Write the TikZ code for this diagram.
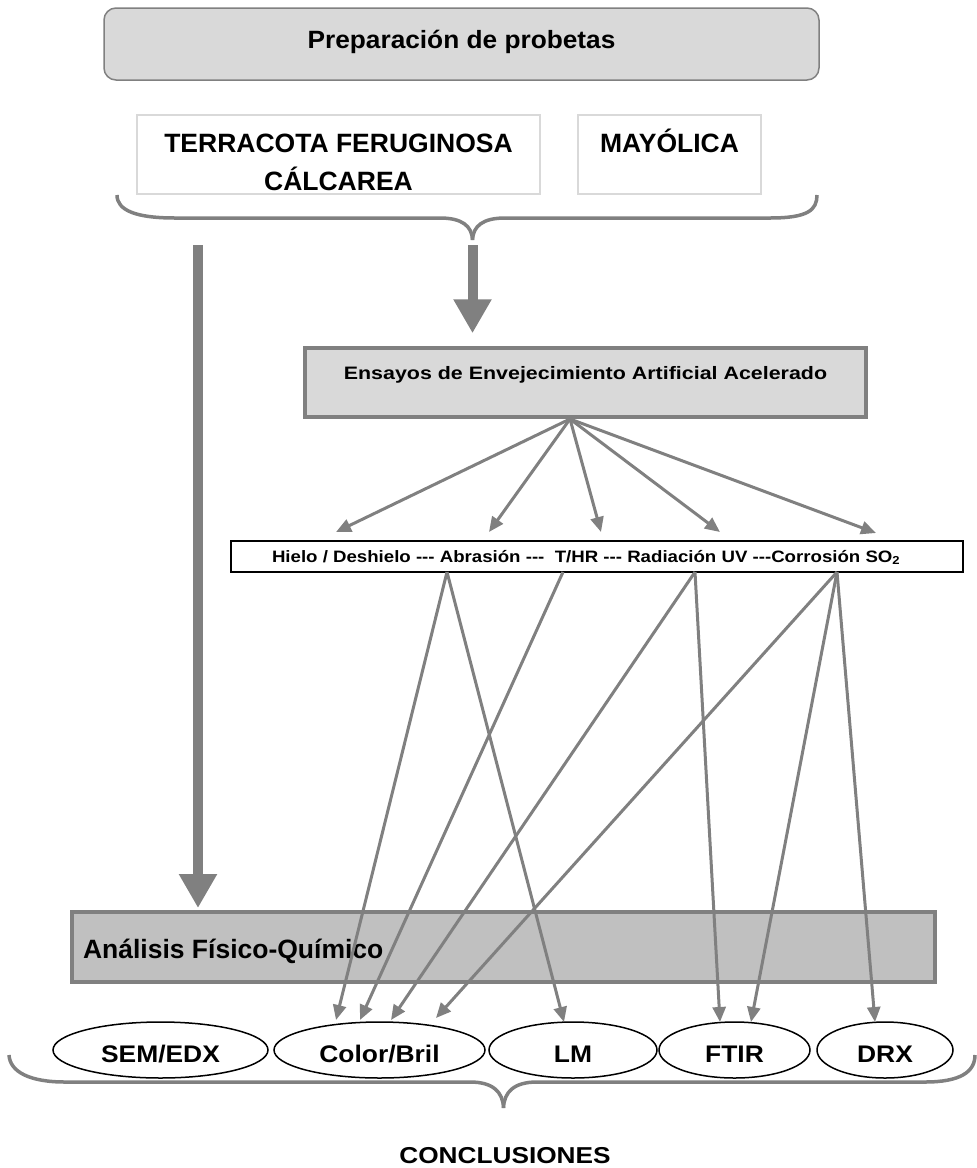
\documentclass[tikz,border=0pt]{standalone}
\usepackage{fontspec}
\setmainfont{Liberation Sans}
\usetikzlibrary{arrows.meta,shapes.geometric,calc}
\definecolor{arrgray}{HTML}{808080}
\definecolor{lightfill}{HTML}{D9D9D9}
\definecolor{midfill}{HTML}{C0C0C0}
\definecolor{lightedge}{HTML}{D9D9D9}
\newcommand{\hs}[2]{\scalebox{#1}[1]{#2}}
\newcommand{\fsz}[1]{\fontsize{#1}{#1}\selectfont\bfseries}
\newcommand{\tdash}{-{}-{}-}
\begin{document}
\begin{tikzpicture}[x=1pt,y=-1pt,
  thinarrow/.style={color=arrgray, line width=3pt, -{Triangle[width=13pt,length=15pt]}},
  bigarrow/.style={color=arrgray, line width=10pt, -{Triangle[width=36pt,length=34pt]}},
  bracestroke/.style={draw=arrgray, line width=3.5pt},
  plainbox/.style={draw=lightedge, line width=2pt, fill=white, rectangle, inner sep=0pt},
  graybox/.style={draw=arrgray, line width=3.5pt, rectangle, inner sep=0pt},
  ell/.style={draw=black, line width=1.5pt, fill=white, ellipse, inner sep=0pt,
    minimum height=56pt, text height=24pt, text depth=0pt, font={\fsz{24}}}
]
\useasboundingbox (0,0) rectangle (977,1168);

% top box
\node[draw=arrgray, fill=lightfill, rounded corners=12pt, line width=1.5pt, rectangle,
  minimum width=715pt, inner sep=0pt, text height=40pt, text depth=32pt, font={\fsz{25}}]
  (prep) at (461.5,44) {\hs{1.05}{Preparación de probetas}};

% material boxes
\node[plainbox, minimum width=403pt, minimum height=79pt] (terr) at (338.5,154.5) {};
\begin{scope}
  \clip (138,116) rectangle (539,191);
  \node[anchor=base, font={\fsz{26.5}}] (terr1) at (338.5,152) {TERRACOTA FERUGINOSA};
  \node[anchor=base, font={\fsz{26.5}}] (terr2) at (338.5,190) {CÁLCAREA};
\end{scope}
\node[plainbox, minimum width=183pt, text height=37pt, text depth=42pt, font={\fsz{26.5}}]
  (may) at (669.5,154.5) {MAYÓLICA};

% top brace
\coordinate (brtip) at (472.5,240);
\draw[bracestroke] (117,195) .. controls (117,210) and (135,218) .. (175,218) -- (440,218)
  .. controls (462,218) and (472,226) .. (brtip);
\draw[bracestroke] (brtip) .. controls (473,226) and (483,218) .. (505,218) -- (770,218)
  .. controls (808,218) and (817,210) .. (817,195);

% Ensayos box
\node[graybox, fill=lightfill, minimum width=561pt, text height=31pt, text depth=38pt, font={\fsz{18}}]
  (ens) at (585.5,382.5) {\hs{1.19}{Ensayos de Envejecimiento Artificial Acelerado}};

% Hielo box
\node[draw=black, line width=2.5pt, fill=white, rectangle, inner sep=0pt,
  text height=21pt, text depth=10pt, font={\fsz{16.5}}]
  (hielo) at (597,556.5) {\makebox[732pt][l]{\hspace{41pt}\hs{1.13}{Hielo / Deshielo \tdash{} Abrasión \tdash{}~ T/HR \tdash{} Radiación UV \tdash{}Corrosión SO\textsubscript{2}}}};

% Analisis box
\node[graybox, fill=midfill, line width=4pt, text height=46pt, text depth=24pt, font={\fsz{26.5}}]
  (ana) at (503.5,947) {\makebox[863pt][l]{\hspace{11pt}Análisis Físico-Químico}};

% ellipses
\node[ell, minimum width=215pt] (sem) at (160.5,1050) {\hs{1.1}{SEM/EDX}};
\node[ell, minimum width=211pt] (cb) at (379.5,1050) {\hs{1.1}{Color/Bril}};
\node[ell, minimum width=168pt] (lm) at (573,1050) {\hs{1.1}{LM}};
\node[ell, minimum width=151pt] (ftir) at (734.5,1050) {\hs{1.1}{FTIR}};
\node[ell, minimum width=136pt] (drx) at (885,1050) {\hs{1.1}{DRX}};

% bottom brace
\coordinate (bbtip) at (503.5,1108);
\draw[bracestroke] (9,1055) .. controls (10,1072) and (30,1082) .. (65,1082) -- (470,1082)
  .. controls (493,1082) and (503,1092) .. (bbtip);
\draw[bracestroke] (bbtip) .. controls (504,1092) and (514,1082) .. (537,1082) -- (925,1082)
  .. controls (960,1082) and (975,1072) .. (975,1055);

\node[anchor=base, font={\fsz{23}}] (concl) at (505,1163) {\hs{1.14}{CONCLUSIONES}};

% big arrows
\draw[bigarrow] ($(brtip)+(0,5)$) -- ($(brtip |- ens.north)+(0,-13)$);
\coordinate (lstart) at (198,245);
\draw[bigarrow] (lstart) -- ($(lstart |- ana.north)+(0,-2)$);

% fan arrows
\coordinate (fan) at (570,419);
\coordinate (f1) at (336,532);
\coordinate (f2) at (489,532);
\coordinate (f3) at (601,532);
\coordinate (f4) at (720,532);
\coordinate (f5) at (876,533);
\foreach \t in {f1,f2,f3,f4,f5} \draw[thinarrow] (fan) -- (\t);

% hielo to ellipses
\coordinate (hA) at (447,572);
\coordinate (hT) at (563,572);
\coordinate (hR) at (695,572);
\coordinate (hC) at (837,572);
\coordinate (cb1) at (336,1020);
\coordinate (cb2) at (360,1020);
\coordinate (cb3) at (391,1020);
\coordinate (cb4) at (436,1018);
\coordinate (lm1) at (564,1022);
\coordinate (ft1) at (720,1022);
\coordinate (ft2) at (751,1022);
\coordinate (dr1) at (875,1022);
\draw[thinarrow] (hA) -- (cb1);
\draw[thinarrow] (hA) -- (lm1);
\draw[thinarrow] (hT) -- (cb2);
\draw[thinarrow] (hR) -- (cb3);
\draw[thinarrow] (hR) -- (ft1);
\draw[thinarrow] (hC) -- (cb4);
\draw[thinarrow] (hC) -- (ft2);
\draw[thinarrow] (hC) -- (dr1);
\end{tikzpicture}
\end{document}
